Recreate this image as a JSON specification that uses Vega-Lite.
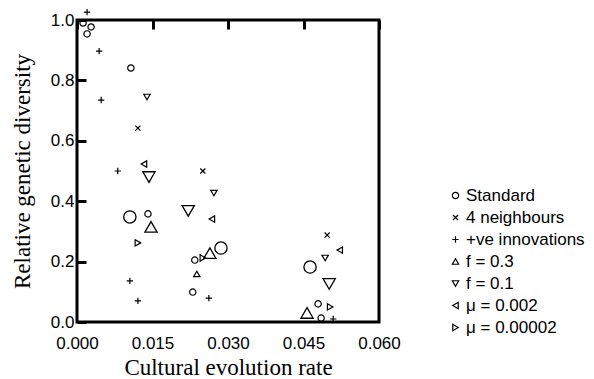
{
  "$schema": "https://vega.github.io/schema/vega-lite/v6.json",
  "autosize": {"type": "none"},
  "padding": {"left": 77, "top": 20, "right": 215, "bottom": 57},
  "width": 302,
  "height": 302,
  "background": "white",
  "config": {
    "view": {"stroke": "black", "strokeWidth": 3},
    "axis": {"labelFont": "Liberation Sans", "labelColor": "black", "labelFlush": false, "titleFont": "Liberation Serif", "titleFontWeight": "normal", "titleColor": "black", "domain": false, "ticks": false, "grid": true, "gridColor": "#000000", "gridOpacity": 1, "gridWidth": 3, "gridDash": [9, 1000]}
  },
  "datasets": {
    "runs": [
      {"series": "Standard", "rate": 0.0012, "diversity": 0.990},
      {"series": "Standard", "rate": 0.0028, "diversity": 0.977},
      {"series": "Standard", "rate": 0.0020, "diversity": 0.954},
      {"series": "Standard", "rate": 0.0107, "diversity": 0.841},
      {"series": "Standard", "rate": 0.0141, "diversity": 0.358},
      {"series": "Standard", "rate": 0.0234, "diversity": 0.205},
      {"series": "Standard", "rate": 0.0230, "diversity": 0.099},
      {"series": "Standard", "rate": 0.0479, "diversity": 0.060},
      {"series": "Standard", "rate": 0.0485, "diversity": 0.013},
      {"series": "4 neighbours", "rate": 0.0121, "diversity": 0.642},
      {"series": "4 neighbours", "rate": 0.0250, "diversity": 0.500},
      {"series": "4 neighbours", "rate": 0.0497, "diversity": 0.288},
      {"series": "+ve innovations", "rate": 0.0020, "diversity": 1.026},
      {"series": "+ve innovations", "rate": 0.0044, "diversity": 0.897},
      {"series": "+ve innovations", "rate": 0.0048, "diversity": 0.735},
      {"series": "+ve innovations", "rate": 0.0081, "diversity": 0.500},
      {"series": "+ve innovations", "rate": 0.0105, "diversity": 0.136},
      {"series": "+ve innovations", "rate": 0.0121, "diversity": 0.070},
      {"series": "+ve innovations", "rate": 0.0262, "diversity": 0.079},
      {"series": "+ve innovations", "rate": 0.0509, "diversity": 0.010},
      {"series": "f = 0.3", "rate": 0.0238, "diversity": 0.159},
      {"series": "f = 0.1", "rate": 0.0139, "diversity": 0.745},
      {"series": "f = 0.1", "rate": 0.0272, "diversity": 0.427},
      {"series": "f = 0.1", "rate": 0.0493, "diversity": 0.212},
      {"series": "μ = 0.002", "rate": 0.0133, "diversity": 0.523},
      {"series": "μ = 0.002", "rate": 0.0268, "diversity": 0.341},
      {"series": "μ = 0.002", "rate": 0.0522, "diversity": 0.238},
      {"series": "μ = 0.00002", "rate": 0.0121, "diversity": 0.262},
      {"series": "μ = 0.00002", "rate": 0.0250, "diversity": 0.212},
      {"series": "μ = 0.00002", "rate": 0.0503, "diversity": 0.050}
    ],
    "means": [
      {"series": "Standard", "rate": 0.0105, "diversity": 0.348},
      {"series": "Standard", "rate": 0.0286, "diversity": 0.245},
      {"series": "Standard", "rate": 0.0463, "diversity": 0.182},
      {"series": "f = 0.3", "rate": 0.0147, "diversity": 0.315},
      {"series": "f = 0.3", "rate": 0.0264, "diversity": 0.228},
      {"series": "f = 0.3", "rate": 0.0457, "diversity": 0.030},
      {"series": "f = 0.1", "rate": 0.0143, "diversity": 0.480},
      {"series": "f = 0.1", "rate": 0.0221, "diversity": 0.368},
      {"series": "f = 0.1", "rate": 0.0501, "diversity": 0.126}
    ]
  },
  "layer": [
    {
      "data": {"name": "runs"},
      "mark": {"type": "point", "filled": false, "color": "black", "strokeWidth": 1.2, "size": 40, "opacity": 1},
      "encoding": {
        "x": {"field": "rate", "type": "quantitative", "scale": {"domain": [0, 0.06], "nice": false, "zero": false},
          "axis": {"orient": "bottom", "values": [0, 0.015, 0.03, 0.045, 0.06], "format": ".3f", "labelFontSize": 17, "labelPadding": 13, "title": "Cultural evolution rate", "titleFontSize": 23, "titleY": 45, "titleBaseline": "middle"}},
        "y": {"field": "diversity", "type": "quantitative", "scale": {"domain": [0, 1], "nice": false, "zero": false},
          "axis": {"orient": "left", "values": [0, 0.2, 0.4, 0.6, 0.8, 1.0], "format": ".1f", "labelFontSize": 17, "labelPadding": 3, "title": "Relative genetic diversity", "titleFontSize": 23, "titleX": -55, "titleY": 151, "titleBaseline": "middle"}},
        "shape": {"field": "series", "type": "nominal",
          "scale": {"domain": ["Standard", "4 neighbours", "+ve innovations", "f = 0.3", "f = 0.1", "μ = 0.002", "μ = 0.00002"],
            "range": ["circle", "M-0.8,-0.8L0.8,0.8M-0.8,0.8L0.8,-0.8", "M-1,0H1M0,-1V1", "triangle-up", "triangle-down", "triangle-left", "triangle-right"]},
          "legend": {"orient": "none", "legendX": 370, "legendY": 167, "title": null, "labelFont": "Liberation Sans", "labelColor": "black", "labelFontSize": 17, "symbolSize": 40, "symbolStrokeColor": "black", "symbolStrokeWidth": 1.2, "rowPadding": 4, "labelOffset": 2}}
      }
    },
    {
      "data": {"name": "means"},
      "mark": {"type": "point", "filled": false, "color": "black", "strokeWidth": 1.3, "size": 150, "opacity": 1},
      "encoding": {
        "x": {"field": "rate", "type": "quantitative",
          "axis": {"orient": "top", "values": [0.015, 0.03, 0.045], "labels": false, "title": null}},
        "y": {"field": "diversity", "type": "quantitative",
          "axis": {"orient": "left", "values": [0, 0.2, 0.4, 0.6, 0.8, 1.0], "format": ".1f", "labelFontSize": 17, "labelPadding": 3, "title": "Relative genetic diversity", "titleFontSize": 23, "titleX": -55, "titleY": 151, "titleBaseline": "middle"}},
        "shape": {"field": "series", "type": "nominal"}
      }
    }
  ],
  "resolve": {"axis": {"x": "independent"}}
}
